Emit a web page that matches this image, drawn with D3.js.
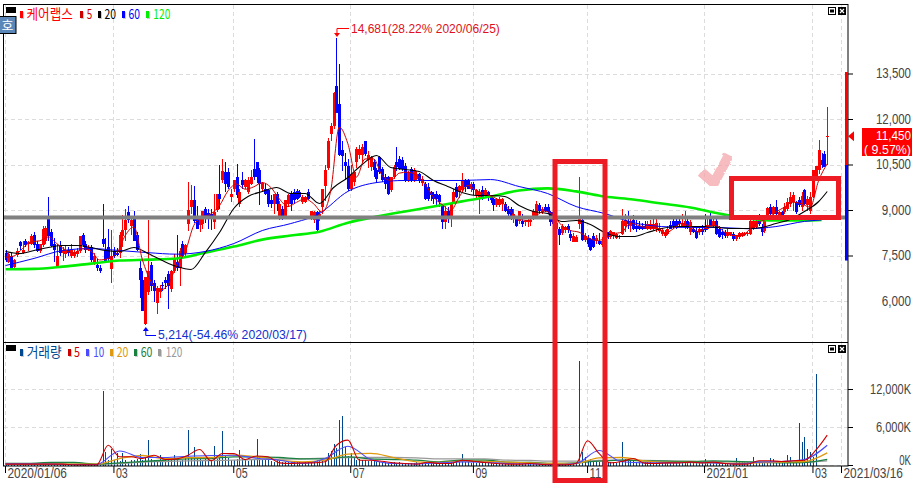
<!DOCTYPE html>
<html>
<head>
<meta charset="utf-8">
<script src="https://cdn.jsdelivr.net/npm/d3@7"></script>
<style>
  body { margin: 0; background: #fff; }
  text { font-family: "Liberation Sans", "Noto Sans CJK KR", sans-serif; }
</style>
</head>
<body>
<div id="viz"></div>
<script>
const width = 916;
const height = 483;

// daily candles: [open, high, low, close]
const candles = [
  [7590,7700,7300,7370],[7300,7600,7280,7550],[7500,7600,7080,7100],[7150,7400,7100,7360],[7520,7750,7480,7680],
  [7970,8000,7700,7820],[7600,7980,7550,7700],[8000,8050,7800,7850],[7900,8000,7650,7950],[7900,8230,7850,8170],
  [8200,8300,7780,7850],[7900,8000,7640,7680],[7650,7900,7600,7880],[7860,8500,7800,8400],[8000,8500,7900,8430],
  [8760,9450,8000,8150],[8300,8400,7800,7830],[7900,8100,7300,7700],[7150,7900,7100,7500],[7860,8000,7500,7600],
  [7600,7800,7350,7700],[7560,7850,7450,7700],[7700,7800,7500,7600],[7500,7900,7450,7700],[7500,7700,7420,7620],
  [7550,7750,7480,7680],[7680,8150,7600,8150],[8200,8250,7800,7860],[7900,8000,7600,7700],[7700,7850,7650,7800],
  [7800,7850,7300,7360],[7250,7600,7200,7500],[7200,7400,7000,7100],[7100,7200,6950,7000],[8050,9200,7800,7900],
  [7700,8100,7300,7350],[7800,8400,7300,7400],[7070,8350,6600,7500],[7680,7800,7450,7500],[7600,7750,7500,7520],
  [7600,8300,7450,8200],[8150,8850,7800,8350],[8350,9050,8000,8700],[8950,9150,8600,8700],[8500,8800,8200,8700],
  [8800,9000,8000,8000],[8200,8300,7650,7700],[7100,7400,6100,6700],[6700,7000,5700,5700],[5250,6800,5214,6800],
  [6300,8700,6200,7000],[7200,7300,6340,6500],[6600,6700,6000,6350],[5950,6500,5600,6450],[6300,6550,6120,6450],
  [6550,6650,6350,6500],[6700,6800,6400,6600],[6900,7000,5750,6500],[6400,7050,6300,7000],[7000,7550,6950,7450],
  [7300,8200,7000,7100],[7100,7750,6500,7650],[7900,8000,7450,7500],[7600,7900,7450,7850],[8540,9935,8340,9020],
  [9130,9825,8900,9330],[9330,9800,8600,8670],[8800,9150,8400,8400],[8510,8800,8300,8780],[8560,9000,8400,8980],
  [9050,9100,8600,8730],[8920,9050,8400,8830],[8890,9060,8350,8780],[8615,9550,8400,8950],[9020,9550,8950,9550],
  [9550,10500,9050,9380],[9990,10700,9900,10290],[10265,10600,9600,9880],[10265,10400,9700,9770],[9450,9700,9270,9550],
  [9715,10000,9600,9990],[10100,10530,9400,9500],[9220,9700,9100,9600],[10010,10270,9700,9825],[9770,10050,9700,9990],
  [9600,10100,9550,9990],[9880,10340,9850,10100],[10375,11365,10000,10120],[10595,10600,9900,10100],[10320,10400,9170,9880],
  [9700,9950,9600,9900],[9715,9900,9500,9550],[9660,9720,9100,9220],[9330,9500,9080,9200],[9220,9550,8900,9550],
  [9530,9600,9000,9220],[8835,9300,8700,9220],[9050,9150,8700,8830],[8835,9350,8750,9350],[9220,9550,9100,9500],
  [9550,9650,9000,9220],[9605,9700,9200,9330],[9640,9700,9350,9385],[9600,9680,9400,9440],[9275,9500,9200,9460],
  [9275,9470,9250,9460],[9600,9700,9350,9385],[8780,9000,8700,8970],[8700,9000,8600,8950],[8950,9000,8300,8370],
  [8800,9000,8650,8900],[9100,9700,8900,9700],[9820,10500,9300,10320],[10400,11400,10350,11300],[11530,11900,11300,11800],
  [11800,12900,11700,12870],[13090,14681,12200,12200],[12520,13830,10800,10815],[11000,11300,10300,10800],[10590,10900,10000,10480],
  [10470,10700,9650,9715],[9715,10500,9650,10210],[9930,10300,9800,10265],[10600,11100,10400,11035],[10820,11150,10700,11035],
  [10820,11200,10600,11090],[11275,11300,10800,10870],[10650,10950,10400,10820],[10430,10800,10300,10760],[10595,10700,10100,10320],
  [10320,10400,9900,10045],[10760,10800,10200,10265],[10375,10450,9950,9990],[10100,10200,9700,9880],[10100,10150,9500,9550],
  [9660,10100,9600,10100],[10100,10500,10050,10430],[10595,11100,10300,10430],[10700,10800,10350,10375],[10650,10750,10300,10375],
  [10480,10550,9950,9990],[9990,10300,9950,10265],[10375,10450,9950,9990],[9990,10400,9950,10320],[10045,10300,10000,10210],
  [10210,10250,9900,9990],[9900,10150,9800,10050],[9880,9950,9350,9385],[9770,9900,9300,9385],[9600,9650,9300,9500],
  [9550,9600,9200,9385],[9550,9650,9100,9385],[9500,9550,9100,9275],[9165,9200,8400,8615],[8615,9150,8400,9000],
  [9000,9100,8600,8780],[8780,9270,8450,9220],[9275,9700,9200,9600],[9770,9900,9400,9440],[9600,9850,9400,9800],
  [9660,10250,9600,9990],[9990,10050,9600,9770],[9990,10050,9700,9715],[9715,9950,9600,9880],[9880,9950,9500,9660],
  [9495,9700,9400,9660],[9440,9700,8880,9600],[9660,9800,9350,9440],[9495,9750,9400,9660],[9600,9650,9300,9440],
  [9440,9500,9250,9330],[9385,9420,9000,9165],[9165,9400,9100,9385],[9165,9450,9100,9385],[9220,9400,9000,9385],
  [9220,9280,8950,9000],[9050,9150,8800,8890],[9050,9100,8700,8780],[8780,9050,8600,8890],[8725,8800,8450,8505],
  [8670,9000,8550,9000],[8670,8900,8450,8560],[8615,8700,8500,8670],[8615,8720,8450,8690],[8615,8700,8500,8690],
  [8780,9050,8700,9000],[8835,9300,8800,9220],[9165,9250,8900,9000],[8945,9100,8900,9050],[9110,9200,8950,9000],
  [9130,9200,8900,8945],[8945,9000,8500,8615],[8950,9000,8500,8560],[8400,8650,8300,8600],[8400,8450,7850,8200],
  [8250,8550,8200,8505],[8350,8500,8250,8450],[8500,8550,8250,8350],[8230,8350,8000,8100],[7960,8250,7950,8150],
  [7960,8200,7950,8120],[8560,10100,8400,8725],[8700,8800,8000,8040],[8040,8250,7950,8170],[8100,8200,7800,7900],
  [8050,8100,7650,7700],[8170,8250,7750,7800],[8020,8200,7900,8100],[8010,8250,7850,7900],[7850,8120,7800,8010],
  [7850,8100,7800,8020],[8285,8300,8050,8120],[8120,8350,8050,8340],[8150,8300,8050,8285],[8100,8250,8050,8220],
  [8120,8200,8050,8170],[8230,9060,8200,8670],[8500,8900,8300,8680],[8670,9000,8400,8560],[8505,8800,8300,8670],
  [8700,8850,8350,8400],[8500,8700,8300,8400],[8500,8650,8350,8380],[8500,8600,8350,8400],[8500,8650,8380,8400],
  [8400,8650,8350,8540],[8400,8700,8350,8560],[8400,8830,8350,8560],[8380,8830,8300,8600],[8320,8600,8250,8430],
  [8230,8420,8150,8350],[8150,8350,8100,8285],[8230,8500,8200,8400],[8510,8650,8400,8400],[8670,8750,8380,8505],
  [8670,8800,8400,8430],[8650,8800,8500,8560],[8500,8900,8450,8600],[8505,9000,8400,8670],[8670,8800,8400,8450],
  [8285,8700,8200,8615],[8400,8450,8250,8285],[8340,8450,8050,8100],[8300,8480,8200,8400],[8400,8520,8200,8300],
  [8500,8900,8300,8350],[8400,8800,8350,8510],[8835,9000,8500,8505],[8505,8750,8450,8670],[8670,8720,8200,8230],
  [8400,8500,8100,8120],[8300,8400,8050,8180],[8285,8350,8080,8175],[8175,8400,8100,8285],[8180,8300,8150,8280],
  [8230,8300,7980,8065],[8050,8200,8000,8150],[8120,8280,8050,8250],[8175,8290,8120,8260],[8190,8300,8150,8250],
  [8210,8290,8150,8260],[8230,8700,8200,8670],[8395,8800,8350,8670],[8450,8800,8380,8670],[8720,8900,8500,8540],
  [8450,8560,8150,8290],[8340,8800,8250,8780],[8725,9100,8650,9090],[9130,9200,8850,8870],[8890,9150,8750,9110],
  [9110,9350,8850,8890],[8835,9000,8800,8945],[8945,9000,8750,8835],[8945,9250,8900,9110],[9055,9400,9000,9275],
  [9220,9600,9100,9440],[9275,9600,9000,9500],[9275,9300,8900,8950],[9330,9450,9100,9165],[9110,9620,9000,9470],
  [9660,9720,9180,9220],[9165,9480,9000,9380],[9000,9600,8900,9440],[9440,10300,9400,10320],[10150,10450,10000,10480],
  [10320,11330,10200,10980],[10680,10900,10400,10500],[10870,10950,10450,10450],[11420,12400,10500,11450]
];

// trading volume in thousands of shares, one per candle
const volumes = [
  150,180,120,160,140,130,170,150,120,140,200,150,130,160,300,180,140,120,150,130,
  140,120,110,130,120,100,110,120,100,110,130,120,140,300,11800,2150,900,2600,800,1900,
  700,1900,800,500,900,800,1100,1800,900,1200,4000,1100,800,900,1700,700,900,800,1000,1600,
  800,700,900,1300,5600,1400,2950,1200,1000,900,1100,1100,700,3050,1000,1200,5400,1700,1200,900,
  800,1000,2400,1000,1100,700,900,1100,4150,1400,800,1000,900,700,600,800,700,600,500,600,
  500,600,600,500,450,500,600,700,600,800,700,750,900,1900,2260,3370,2700,7260,7800,2950,
  1500,1900,1200,900,1000,800,900,700,750,650,600,550,600,500,450,500,600,450,500,400,
  350,400,450,400,500,450,400,550,450,400,350,450,500,700,500,450,550,700,500,600,
  1800,600,500,450,500,400,350,400,450,400,350,300,350,400,350,300,350,300,250,300,
  350,300,250,300,350,300,250,300,250,300,350,300,400,350,300,250,300,350,300,400,
  350,16470,2200,1300,900,1100,700,800,600,650,500,550,600,500,450,500,3730,1000,900,800,
  700,600,550,500,600,550,500,450,500,550,450,500,550,500,450,500,450,500,550,450,
  500,600,550,450,400,1100,500,450,400,500,450,400,350,400,350,450,1150,600,700,500,
  550,600,1370,600,500,550,600,500,1200,1000,600,550,500,700,1630,1300,600,700,6730,3730,
  4520,2680,2150,1400,14500
].slice(0, candles.length);

// moving averages at a fixed bar spacing
const ma5 = [7460,7500,7750,7970,8000,8130,7910,7700,7590,7740,7660,7370,7420,7590,8180,8460,7370,6660,6370,6555,
  7200,7640,8510,8780,8890,9160,9650,9870,9700,9780,9920,9760,9380,9130,9270,9385,9220,8945,9660,11750,
  11200,10100,10700,10700,10155,9990,10230,10265,10155,9880,9440,9200,9000,9440,9825,9660,9550,9440,9275,8980,
  8725,8670,8835,8980,8835,8505,8340,8285,8120,8010,8065,8230,8285,8580,8505,8430,8450,8230,8395,8580,
  8470,8285,8470,8505,8285,8175,8175,8395,8615,8725,8945,9110,9275,9220,9110,9990,10540];
const ma20 = [7647,7581,7680,7779,7845,7845,7779,7680,7647,7779,7581,7350,7152,7053,7614,8274,9066,9462,9627,9759,
  9561,9561,9231,9759,10089,10518,10815,10419,10353,10287,9990,9792,9594,9495,9495,9462,9165,8967,8901,8637,
  8670,8538,8274,8142,8142,8274,8406,8472,8472,8472,8439,8406,8406,8439,8571,8703,8967,9297,9627];
const ma60 = [7185,7420,7680,7745,7680,7610,7560,7650,7910,8340,8570,8900,9630,9920,9990,9990,9990,10020,9790,9560,
  9130,8900,8600,8470,8440,8440,8400,8470,8640,8690];
const ma120 = [7063,7076,7150,7250,7350,7380,7420,7610,7810,8040,8175,8300,8600,8800,8970,9130,9300,9460,9660,9730,
  9630,9460,9360,9230,9100,8900,8735,8670,8670,8690];

const vol5 = [210,210,210,210,210,210,105,105,105,3200,1370,1370,1100,1630,950,1050,1630,2520,740,1900,
  1900,950,1500,1370,420,315,420,420,580,3200,4000,840,840,680,420,315,210,525,315,315,
  840,680,470,315,210,210,315,160,105,105,315,3900,1900,420,630,1100,370,315,420,420,
  530,420,530,315,210,210,740,740,630,740,840,2420,4790];
const vol10 = [263,263,210,160,160,2300,1260,1260,1470,1580,1630,1150,840,315,1100,3050,950,315,260,420,
  580,525,315,260,160,315,2370,580,420,420,470,420,260,530,630,950,3200];
const vol20 = [210,210,210,210,210,1100,1580,1100,1260,1260,1680,1370,840,580,840,1790,1900,1260,580,470,
  680,630,525,420,315,315,1210,1260,740,470,470,420,315,420,530,630,2000];
const vol60 = [315,315,470,470,210,420,630,840,1050,1100,1370,1370,1260,1050,1050,1370,1050,950,840,580,
  840,840,525,470,315,420,680,840,740,680,630,740,630,530,420,470,950];
const vol120 = [210,210,210,210,210,315,530,630,740,790,840,950,1000,1050,1160,1260,1260,1260,1210,1050,
  1050,1050,840,790,680,680,790,840,790,740,630,580,580,530,530,530,740];

const priceTicks = [6000, 7500, 9000, 10500, 12000, 13500];
const volumeTicks = [0, 6000, 12000];
const dateTicks = [0, 38, 80, 121, 164, 204, 245, 283, 293];
const dateLabels = ['2020/01/06', '03', '05', '07', '09', '11', '2021/01', '03', '2021/03/16'];
const refPrice = 8770;
const lastPrice = 11450;

const panel = {left: 3.5, right: 848, top: 4.5, split: 342.5, bottom: 466};
const red = '#ed1c24';
const gridColor = '#dcdcdc';
const textColor = '#444';

const svg = d3.select('#viz').append('svg')
  .attr('width', width)
  .attr('height', height)
  .style('display', 'block');

const x = d3.scaleLinear().domain([0, 293]).range([5.5, 841.5]);
const yPrice = d3.scaleLinear().domain([7500, 13500]).range([256, 74]);
const yVol = d3.scaleLinear().domain([0, 12000]).range([465.5, 389.5]);

// grid
const grid = svg.append('g')
  .attr('stroke', gridColor)
  .attr('stroke-dasharray', '4 3')
  .attr('shape-rendering', 'crispEdges');
grid.selectAll('.gv').data(dateTicks).join('line')
  .attr('x1', d => Math.floor(x(d)) + 0.5).attr('x2', d => Math.floor(x(d)) + 0.5)
  .attr('y1', panel.top).attr('y2', panel.bottom);
grid.selectAll('.gp').data(priceTicks).join('line')
  .attr('x1', panel.left).attr('x2', panel.right)
  .attr('y1', d => Math.floor(yPrice(d)) + 0.5).attr('y2', d => Math.floor(yPrice(d)) + 0.5);
grid.selectAll('.gq').data(volumeTicks).join('line')
  .attr('x1', panel.left).attr('x2', panel.right)
  .attr('y1', d => Math.floor(yVol(d)) + 0.5).attr('y2', d => Math.floor(yVol(d)) + 0.5);

// candles
const candleColor = d => d[3] >= d[0] ? '#ff0000' : '#0000ff';
const candleG = svg.append('g').attr('shape-rendering', 'crispEdges');
candleG.selectAll('.wick').data(candles).join('rect')
  .attr('x', (d, i) => Math.round(x(i)))
  .attr('width', 1)
  .attr('y', d => yPrice(d[1]))
  .attr('height', d => yPrice(d[2]) - yPrice(d[1]))
  .attr('fill', candleColor);
candleG.selectAll('.body').data(candles).join('rect')
  .attr('x', (d, i) => Math.round(x(i)) - 1)
  .attr('width', 3)
  .attr('y', d => yPrice(Math.max(d[0], d[3])))
  .attr('height', d => Math.max(1, Math.abs(yPrice(d[0]) - yPrice(d[3]))))
  .attr('fill', candleColor);

// moving average lines, each list is sampled every `step` bars
const drawLine = (g, y, values, step, color, lineWidth, lastBar) => {
  const line = d3.line()
    .x((d, i) => x(Math.min(i * step, lastBar)))
    .y(d => y(d))
    .curve(d3.curveMonotoneX);
  g.append('path')
    .attr('d', line(values))
    .attr('fill', 'none')
    .attr('stroke', color)
    .attr('stroke-width', lineWidth);
};
drawLine(svg, yPrice, ma120, 10, '#00ee00', 2.6, 286);
drawLine(svg, yPrice, ma60, 10, '#0000ff', 1, 286);
drawLine(svg, yPrice, ma20, 5, '#000', 1.1, 288);
drawLine(svg, yPrice, ma5, 3, '#d00000', 1, 288);

// horizontal support line
svg.append('rect')
  .attr('x', panel.left)
  .attr('width', panel.right - panel.left)
  .attr('y', yPrice(refPrice) - 2)
  .attr('height', 4)
  .attr('fill', '#808080');

// volume bars and lines
svg.append('g').attr('shape-rendering', 'crispEdges')
  .selectAll('rect').data(volumes).join('rect')
  .attr('x', (d, i) => Math.round(x(i)))
  .attr('width', 1)
  .attr('y', d => yVol(d))
  .attr('height', d => yVol(0) - yVol(d))
  .attr('fill', '#00478f');
drawLine(svg, yVol, vol120, 8, '#999', 1.3, 288);
drawLine(svg, yVol, vol60, 8, '#1a8040', 1.3, 288);
drawLine(svg, yVol, vol20, 8, '#e09a10', 1.3, 288);
drawLine(svg, yVol, vol10, 8, '#4a4aff', 1.1, 288);
drawLine(svg, yVol, vol5, 4, '#cc0000', 1.1, 288);

// panel frame
svg.append('rect')
  .attr('x', panel.left).attr('y', panel.top)
  .attr('width', panel.right - panel.left).attr('height', panel.bottom - panel.top)
  .attr('fill', 'none').attr('stroke', '#000');
svg.append('line')
  .attr('x1', panel.left).attr('x2', panel.right)
  .attr('y1', panel.split).attr('y2', panel.split)
  .attr('stroke', '#000');

// squeezes a label to the width the narrow bitmap font had in the original
const squeeze = (sel, w) => sel.each(function() {
  const t = d3.select(this);
  const px = +t.attr('x') || 0;
  const k = w / this.getComputedTextLength();
  t.attr('transform', `translate(${px}, 0) scale(${k}, 1) translate(${-px}, 0)`);
});

// axes
const priceAxis = svg.append('g')
  .attr('transform', `translate(${panel.right}, 0)`)
  .call(d3.axisRight(yPrice).tickValues(priceTicks).tickSize(5).tickFormat(d3.format(',')).offset(0));
const volAxis = svg.append('g')
  .attr('transform', `translate(${panel.right}, 0)`)
  .call(d3.axisRight(yVol).tickValues(volumeTicks).tickSize(5).tickFormat(d => d3.format(',')(d) + 'K').offset(0));
[priceAxis, volAxis].forEach(a => {
  a.select('.domain').remove();
  a.selectAll('line').attr('stroke', '#000');
  a.selectAll('text')
    .attr('x', 63)
    .attr('text-anchor', 'end')
    .attr('font-size', 14)
    .attr('fill', textColor)
    .style('font-family', '"Liberation Sans"')
    .each(function() { squeeze(d3.select(this), this.textContent.length * 5.85); });
});
// the 6,000 label sits without a tick mark, the 0K label sits above its tick
priceAxis.selectAll('.tick').filter(d => d === 6000).select('line').remove();
volAxis.selectAll('text').filter(d => d === 0).attr('y', -5);

const dateAxis = svg.append('g')
  .attr('transform', `translate(0, ${panel.bottom})`)
  .call(d3.axisBottom(x).tickValues(dateTicks).tickSize(7).tickFormat((d, i) => dateLabels[i]).offset(0));
dateAxis.select('.domain').remove();
dateAxis.selectAll('line').attr('stroke', '#000');
dateAxis.selectAll('text')
  .attr('x', 2)
  .attr('y', 2)
  .attr('text-anchor', 'start')
  .attr('font-size', 14)
  .attr('fill', textColor)
  .style('font-family', '"Liberation Sans"')
  .each(function() { squeeze(d3.select(this), this.textContent.length * 5.95); });

// red/blue bar on the price axis
svg.append('rect').attr('x', 845).attr('width', 3)
  .attr('y', yPrice(13500) - 2).attr('height', yPrice(10500) - yPrice(13500) + 2).attr('fill', '#ff0000');
svg.append('rect').attr('x', 845).attr('width', 3)
  .attr('y', yPrice(10500)).attr('height', yPrice(7350) - yPrice(10500)).attr('fill', '#0000ff');

// last price marker and box
svg.append('path')
  .attr('d', `M848,${yPrice(lastPrice)}L854,${yPrice(lastPrice) - 5}V${yPrice(lastPrice) + 5}Z`)
  .attr('fill', '#ff0000');
svg.append('rect').attr('x', 862).attr('y', 128).attr('width', 50).attr('height', 28).attr('fill', '#ff0000');
squeeze(svg.append('text').attr('x', 911).attr('y', 140).attr('text-anchor', 'end')
  .attr('font-size', 12.8).attr('fill', '#fff').text(d3.format(',')(lastPrice)), 35);
squeeze(svg.append('text').attr('x', 911).attr('y', 154).attr('text-anchor', 'end')
  .attr('font-size', 12.8).attr('fill', '#fff').text('( 9.57%)'), 47);

// high and low callouts
const hiX = x(116) + 0.5;
const loX = x(49) + 0.5;
svg.append('path')
  .attr('d', `M349,28.5H${hiX}V34`)
  .attr('fill', 'none').attr('stroke', '#ff0000');
svg.append('path')
  .attr('d', `M${hiX - 3},33H${hiX + 3}L${hiX},37Z`)
  .attr('fill', '#ff0000');
squeeze(svg.append('text').attr('x', 351).attr('y', 33).attr('font-size', 13.5)
  .attr('fill', '#e01020').text('14,681(28.22% 2020/06/25)'), 149);
svg.append('path')
  .attr('d', `M156,335.5H${loX}V330`)
  .attr('fill', 'none').attr('stroke', '#0000ff');
svg.append('path')
  .attr('d', `M${loX - 3},331H${loX + 3}L${loX},327Z`)
  .attr('fill', '#0000ff');
squeeze(svg.append('text').attr('x', 158).attr('y', 339).attr('font-size', 13.5)
  .attr('fill', '#1030d0').text('5,214(-54.46% 2020/03/17)'), 149);

// legends
const legendItem = (mx, mY, color, label, tx, tw, textY, fs) => {
  svg.append('rect').attr('x', mx + 1).attr('y', mY + 1).attr('width', 3).attr('height', 7).attr('fill', '#ccc');
  svg.append('rect').attr('x', mx).attr('y', mY).attr('width', 3).attr('height', 7).attr('fill', color);
  squeeze(svg.append('text').attr('x', tx).attr('y', textY).attr('font-size', fs)
    .style('font-family', '"Noto Sans CJK KR"')
    .attr('fill', color).text(label), tw);
};
svg.append('rect').attr('x', 6).attr('y', 7).attr('width', 10).attr('height', 6).attr('fill', '#000');
legendItem(20, 11, '#ff0000', '케어랩스', 26.5, 46.5, 19.5, 14);
legendItem(80, 11, '#cc0000', '5', 86.7, 5.5, 19.5, 14);
legendItem(98, 11, '#000', '20', 104.5, 11.5, 19.5, 14);
legendItem(122, 11, '#0000ff', '60', 128.4, 11.5, 19.5, 14);
legendItem(146, 11, '#00ee00', '120', 153.3, 17, 19.5, 14);

svg.append('rect').attr('x', 6).attr('y', 345).attr('width', 10).attr('height', 6).attr('fill', '#000');
legendItem(20, 349, '#00478f', '거래량', 26.7, 35, 357.5, 14);
legendItem(68, 349, '#cc0000', '5', 74, 6, 357.5, 14);
legendItem(86, 349, '#4a4aff', '10', 93.3, 11, 357.5, 14);
legendItem(110, 349, '#e09a10', '20', 116.7, 11.7, 357.5, 14);
legendItem(134, 349, '#1a8040', '60', 140.7, 11.7, 357.5, 14);
legendItem(158, 349, '#999', '120', 165.7, 16.7, 357.5, 14);

// blue button at top left
svg.append('rect').attr('x', -1).attr('y', 16.5).attr('width', 17).attr('height', 17)
  .attr('fill', '#5b86b8').attr('stroke', '#000');
svg.append('text').attr('x', 7.5).attr('y', 29.5).attr('text-anchor', 'middle')
  .attr('font-size', 13).attr('fill', '#fff')
  .style('font-family', '"Noto Sans CJK KR"').text('호');

// panel window buttons
[7.5, 345.5].forEach(by => {
  svg.append('rect').attr('x', 828.5).attr('y', by).attr('width', 7).attr('height', 7)
    .attr('fill', '#fff').attr('stroke', '#000');
  svg.append('rect').attr('x', 830).attr('y', by + 2).attr('width', 4).attr('height', 3).attr('fill', '#000');
  svg.append('rect').attr('x', 838.5).attr('y', by).attr('width', 7).attr('height', 7)
    .attr('fill', '#000').attr('stroke', '#000');
  svg.append('path').attr('d', `M840,${by + 1.5}l4,4m0,-4l-4,4`).attr('stroke', '#fff').attr('stroke-width', 1.2);
});

// rough edge for the hand drawn check mark
const rough = svg.append('defs').append('filter').attr('id', 'rough');
rough.append('feTurbulence').attr('type', 'fractalNoise').attr('baseFrequency', 0.25).attr('numOctaves', 2).attr('result', 'noise');
rough.append('feDisplacementMap').attr('in', 'SourceGraphic').attr('in2', 'noise').attr('scale', 4);

svg.append('path')
  .attr('d', 'M701,172L714,183L729,155')
  .attr('fill', 'none')
  .attr('stroke', '#f4a6ab')
  .attr('stroke-width', 10)
  .attr('opacity', 0.75)
  .attr('filter', 'url(#rough)');
svg.append('g')
  .attr('fill', 'none')
  .attr('stroke', red)
  .attr('stroke-width', 5)
  .selectAll('rect')
  .data([[555, 161.5, 50, 319], [731.5, 178.5, 107, 39]])
  .join('rect')
    .attr('x', d => d[0])
    .attr('y', d => d[1])
    .attr('width', d => d[2])
    .attr('height', d => d[3]);
</script>
</body>
</html>
